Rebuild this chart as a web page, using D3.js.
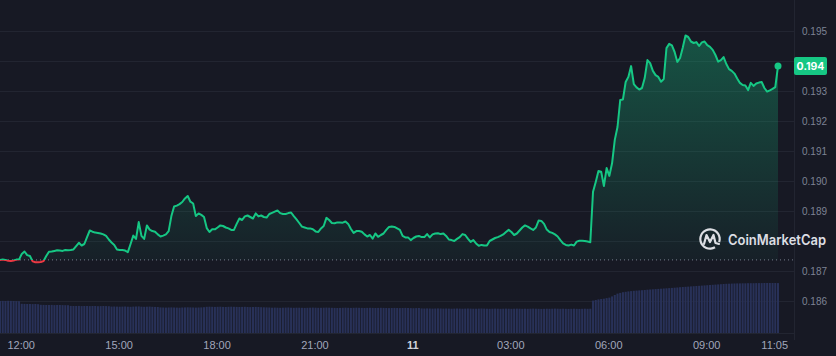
<!DOCTYPE html>
<html>
<head>
<meta charset="utf-8">
<script src="https://d3js.org/d3.v7.min.js"></script>
<style>
  html, body { margin: 0; padding: 0; background: #171924; }
  svg { display: block; font-family: Inter, "Noto Sans", sans-serif; }
</style>
</head>
<body>
<div id="chart"></div>
<script>
// price every 5 minutes, starting 10th 11:22
var prices = [
  0.18737,0.18738,0.18737,0.18734,0.18733,0.18735,0.18738,0.18738,0.18757,0.18765,
  0.18753,0.18750,0.18732,0.18729,0.18729,0.18730,0.18733,0.18750,0.18764,0.18765,
  0.18767,0.18769,0.18768,0.18767,0.18770,0.18769,0.18770,0.18772,0.18783,0.18794,
  0.18785,0.18790,0.18813,0.18835,0.18831,0.18828,0.18827,0.18825,0.18822,0.18817,
  0.18805,0.18795,0.18787,0.18772,0.18770,0.18770,0.18768,0.18763,0.18790,0.18818,
  0.18807,0.18863,0.18817,0.18807,0.18852,0.18838,0.18833,0.18831,0.18822,0.18815,
  0.18818,0.18822,0.18833,0.18883,0.18915,0.18918,0.18923,0.18930,0.18942,0.18950,
  0.18931,0.18925,0.18883,0.18892,0.18887,0.18880,0.18843,0.18830,0.18839,0.18839,
  0.18845,0.18852,0.18850,0.18845,0.18842,0.18837,0.18837,0.18857,0.18875,0.18870,
  0.18882,0.18885,0.18880,0.18875,0.18892,0.18882,0.18885,0.18880,0.18878,0.18890,
  0.18894,0.18898,0.18902,0.18893,0.18890,0.18890,0.18893,0.18895,0.18883,0.18872,
  0.18860,0.18848,0.18845,0.18842,0.18842,0.18839,0.18832,0.18830,0.18842,0.18850,
  0.18877,0.18870,0.18860,0.18859,0.18862,0.18862,0.18861,0.18865,0.18857,0.18840,
  0.18827,0.18833,0.18833,0.18831,0.18822,0.18815,0.18820,0.18808,0.18825,0.18814,
  0.18820,0.18825,0.18837,0.18847,0.18848,0.18847,0.18842,0.18837,0.18817,0.18812,
  0.18812,0.18803,0.18810,0.18815,0.18817,0.18813,0.18813,0.18823,0.18812,0.18822,
  0.18825,0.18826,0.18823,0.18825,0.18817,0.18805,0.18803,0.18800,0.18807,0.18813,
  0.18823,0.18820,0.18808,0.18797,0.18803,0.18792,0.18784,0.18787,0.18785,0.18785,
  0.18800,0.18805,0.18810,0.18813,0.18817,0.18822,0.18830,0.18837,0.18830,0.18820,
  0.18825,0.18835,0.18845,0.18852,0.18848,0.18842,0.18837,0.18845,0.18868,0.18867,
  0.18857,0.18838,0.18830,0.18827,0.18822,0.18815,0.18803,0.18792,0.18787,0.18785,
  0.18788,0.18785,0.18798,0.18801,0.18801,0.18800,0.18798,0.18796,0.18964,0.18997,
  0.19033,0.19031,0.18983,0.19043,0.19017,0.19059,0.19137,0.19180,0.19270,0.19272,
  0.19330,0.19347,0.19383,0.19323,0.19312,0.19305,0.19310,0.19343,0.19403,0.19393,
  0.19367,0.19353,0.19347,0.19331,0.19340,0.19443,0.19457,0.19452,0.19430,0.19397,
  0.19410,0.19445,0.19485,0.19480,0.19465,0.19460,0.19463,0.19450,0.19462,0.19465,
  0.19453,0.19447,0.19437,0.19420,0.19398,0.19403,0.19413,0.19390,0.19373,0.19367,
  0.19358,0.19342,0.19327,0.19320,0.19318,0.19303,0.19327,0.19317,0.19325,0.19328,
  0.19330,0.19310,0.19298,0.19302,0.19307,0.19313,0.19383
];

// 24h volume (millions), same timestamps
var volumes = [
  32.0,32.1,32.0,32.2,32.1,32.0,31.9,31.8,
  29.2,29.1,29.0,29.0,28.9,29.0,28.8,
  28.2,28.1,28.0,28.0,28.1,27.9,28.0,28.0,27.9,27.8,27.8,
  27.1,27.0,27.0,27.1,26.9,27.0,27.0,26.9,27.0,27.0,26.8,26.9,27.0,26.9,26.8,
  26.4,26.5,26.4,26.3,26.4,26.5,26.3,26.2,26.4,26.5,26.6,26.3,26.2,26.3,26.4,26.2,26.1,26.0,
  25.6,25.5,25.4,25.5,25.6,25.5,25.4,25.3,25.5,25.6,25.7,25.6,25.5,25.4,25.5,25.6,25.8,
  26.2,26.3,26.2,26.1,26.2,26.3,26.1,26.0,26.2,26.3,26.2,26.1,26.0,26.1,26.2,26.0,25.9,26.0,26.1,26.0,25.8,25.7,25.6,25.5,
  25.3,25.4,25.3,25.2,25.3,25.4,25.5,25.3,25.2,25.3,
  25.3,25.2,25.1,25.2,25.3,25.4,25.3,25.2,25.2,25.3,
  25.4,25.3,25.2,25.1,25.0,25.1,25.2,25.3,25.2,25.1,
  25.2,25.3,25.2,25.1,25.0,25.1,25.2,25.1,25.0,25.1,
  25.2,25.1,25.0,24.9,25.0,25.1,25.0,24.9,25.0,25.1,
  25.0,24.9,24.8,24.9,25.0,
  24.6,24.5,24.6,24.5,24.4,24.5,24.6,24.5,24.4,24.5,
  24.4,24.3,24.4,24.5,24.4,24.3,24.4,24.5,24.4,24.3,
  24.3,24.4,24.5,24.4,24.3,24.2,24.3,24.4,24.3,24.2,
  24.3,24.4,24.3,24.2,24.3,24.4,24.3,24.2,24.3,24.2,
  24.3,24.4,24.3,24.2,24.1,24.2,24.3,24.2,24.3,24.4,
  24.3,24.2,24.3,24.2,24.1,24.2,24.3,24.2,24.1,24.2,
  24.3,24.2,24.3,
  32.4,33.0,33.6,34.0,34.3,34.9,35.4,36.6,38.0,39.4,
  40.1,40.8,41.2,41.6,41.9,42.2,42.4,42.6,42.8,43.0,
  43.3,43.5,43.7,43.9,44.1,44.3,44.5,44.7,44.9,45.1,
  45.3,45.5,45.8,46.0,46.2,46.4,46.6,46.8,47.0,47.2,
  47.4,47.6,47.8,48.0,48.2,48.4,48.6,48.8,49.0,49.2,
  49.3,49.4,49.5,49.6,49.6,49.7,49.7,49.8,49.8,49.8,
  49.9,49.9,49.9,50.0,50.0,50.0,50.0,50.0,49.9
];

var xTickTimes = ["2024-06-10T12:00","2024-06-10T15:00","2024-06-10T18:00","2024-06-10T21:00",
                  "2024-06-11T00:00","2024-06-11T03:00","2024-06-11T06:00","2024-06-11T09:00","2024-06-11T11:05"];
var xTickLabels = ["12:00","15:00","18:00","21:00","11","03:00","06:00","09:00","11:05"];
var yTicks = [0.186,0.187,0.188,0.189,0.190,0.191,0.192,0.193,0.194,0.195];

var W = 836, H = 356;
var green = "#16c784", red = "#ea3943";

var parseT = d3.timeParse("%Y-%m-%dT%H:%M");
var start = parseT("2024-06-10T11:22");
var data = prices.map(function(p, i){
  return {t: d3.timeMinute.offset(start, 5*i), p: p, v: volumes[i]};
});

var x = d3.scaleTime()
  .domain([data[0].t, data[data.length-1].t])
  .range([0, 778]);
var y = d3.scaleLinear().domain([0.186, 0.195]).range([301, 31]);
var yVol = d3.scaleLinear().domain([0, 60]).range([333, 273]);

var base = prices[0];
var yBase = y(base);
var last = data[data.length-1];
var wmY = 239; // watermark centre line

var svg = d3.select("#chart").append("svg")
  .attr("width", W).attr("height", H);

svg.append("rect").attr("width", W).attr("height", H).attr("fill", "#171924");

var defs = svg.append("defs");
var grad = defs.append("linearGradient").attr("id", "gUp")
  .attr("gradientUnits", "userSpaceOnUse")
  .attr("x1", 0).attr("x2", 0).attr("y1", y(0.195)).attr("y2", yBase);
grad.append("stop").attr("offset", "0%").attr("stop-color", green).attr("stop-opacity", 0.34);
grad.append("stop").attr("offset", "100%").attr("stop-color", green).attr("stop-opacity", 0.04);
var gradR = defs.append("linearGradient").attr("id", "gDn")
  .attr("gradientUnits", "userSpaceOnUse")
  .attr("x1", 0).attr("x2", 0).attr("y1", yBase).attr("y2", yBase + 10);
gradR.append("stop").attr("offset", "0%").attr("stop-color", red).attr("stop-opacity", 0.05);
gradR.append("stop").attr("offset", "100%").attr("stop-color", red).attr("stop-opacity", 0.2);

defs.append("clipPath").attr("id", "above").append("rect")
  .attr("x", 0).attr("y", 0).attr("width", W).attr("height", yBase);
defs.append("clipPath").attr("id", "below").append("rect")
  .attr("x", 0).attr("y", yBase).attr("width", W).attr("height", H - yBase);

// horizontal grid
svg.append("g").selectAll("line")
  .data(yTicks).enter().append("line")
  .attr("x1", 0).attr("x2", 794)
  .attr("y1", function(d){ return Math.round(y(d)) + 0.5; })
  .attr("y2", function(d){ return Math.round(y(d)) + 0.5; })
  .style("stroke", "#222531").style("stroke-width", 1);
svg.append("line").attr("x1", 0).attr("x2", 794).attr("y1", 333.5).attr("y2", 333.5)
  .style("stroke", "#222531");

// volume bars
var step = x(data[1].t) - x(data[0].t);
svg.append("g").selectAll("rect")
  .data(data).enter().append("rect")
  .attr("x", function(d){ return x(d.t) - step/2 + 0.35; })
  .attr("width", step - 0.7)
  .attr("y", function(d){ return yVol(d.v); })
  .attr("height", function(d){ return yVol(0) - yVol(d.v); })
  .attr("fill", "#283158");

// area under price
var area = d3.area()
  .x(function(d){ return x(d.t); })
  .y0(yBase)
  .y1(function(d){ return y(d.p); });
svg.append("path").datum(data).attr("d", area)
  .attr("fill", "url(#gUp)").attr("clip-path", "url(#above)");
svg.append("path").datum(data).attr("d", area)
  .attr("fill", "url(#gDn)").attr("clip-path", "url(#below)");

// dotted base line
svg.append("line")
  .attr("x1", 0).attr("x2", 794).attr("y1", yBase).attr("y2", yBase)
  .style("stroke", "#a1a7bb").style("stroke-opacity", 0.7)
  .style("stroke-width", 1).style("stroke-dasharray", "1,3");

// price line, green above base / red below
var line = d3.line()
  .x(function(d){ return x(d.t); })
  .y(function(d){ return y(d.p); });
svg.append("path").datum(data).attr("d", line)
  .attr("fill", "none").attr("stroke", green).attr("stroke-width", 2)
  .attr("stroke-linejoin", "round").attr("clip-path", "url(#above)");
svg.append("path").datum(data).attr("d", line)
  .attr("fill", "none").attr("stroke", red).attr("stroke-width", 2)
  .attr("stroke-linejoin", "round").attr("clip-path", "url(#below)");

svg.append("circle").attr("cx", x(last.t)).attr("cy", y(last.p)).attr("r", 3.5).attr("fill", green);

// right axis; labels hidden under the badge / watermark are left out
svg.append("line").attr("x1", 794.5).attr("x2", 794.5).attr("y1", 0).attr("y2", 340)
  .style("stroke", "#222531");
var yLabelTicks = yTicks.filter(function(d){
  return Math.abs(y(d) - y(last.p)) > 12 && Math.abs(y(d) - wmY) > 10;
});
var yAxis = svg.append("g").attr("transform", "translate(795,0)")
  .call(d3.axisRight(y).tickValues(yLabelTicks).tickFormat(d3.format(".3f")).tickSize(0).tickPadding(7));
yAxis.select(".domain").remove();
yAxis.selectAll("text").attr("fill", "#7d8395").style("font-size", "10px").attr("text-anchor", "start");

// last price badge
var badge = svg.append("g").attr("transform", "translate(794," + (y(last.p) - 9) + ")");
badge.append("rect").attr("width", 33).attr("height", 18).attr("rx", 2).attr("fill", green);
badge.append("text").attr("x", 16.5).attr("y", 12.5).attr("text-anchor", "middle")
  .attr("fill", "#ffffff").style("font-size", "10.5px").style("font-weight", "700")
  .text(d3.format(".3f")(last.p));

// bottom axis
var xAxis = svg.append("g").attr("transform", "translate(0,334)")
  .call(d3.axisBottom(x).tickValues(xTickTimes.map(parseT))
    .tickFormat(function(d, i){ return xTickLabels[i]; }).tickSize(0).tickPadding(7));
xAxis.select(".domain").remove();
xAxis.selectAll("text").style("font-size", "11px")
  .style("font-weight", function(d, i){ return xTickLabels[i] === "11" ? "700" : "400"; })
  .attr("fill", function(d, i){ return xTickLabels[i] === "11" ? "#d0d3dc" : "#a1a7bb"; });

// watermark
var wm = svg.append("g").attr("transform", "translate(710," + wmY + ")");
wm.append("path")
  .attr("d", d3.arc()({innerRadius: 8.6, outerRadius: 10.8, startAngle: 2.6, endAngle: 2.6 + Math.PI*1.78}))
  .attr("fill", "#dcdee3");
wm.append("path")
  .attr("d", "M-6,5 L-3.5,-4 L0,3 L3.5,-4 L5.5,4 L9,5")
  .attr("fill", "none").attr("stroke", "#dcdee3").attr("stroke-width", 2.2)
  .attr("stroke-linejoin", "round").attr("stroke-linecap", "round");
svg.append("text").attr("x", 728).attr("y", wmY + 5.5)
  .attr("fill", "#dcdee3").style("font-size", "14px").style("font-weight", "600")
  .attr("textLength", 98).attr("lengthAdjust", "spacingAndGlyphs")
  .text("CoinMarketCap");
</script>
</body>
</html>
